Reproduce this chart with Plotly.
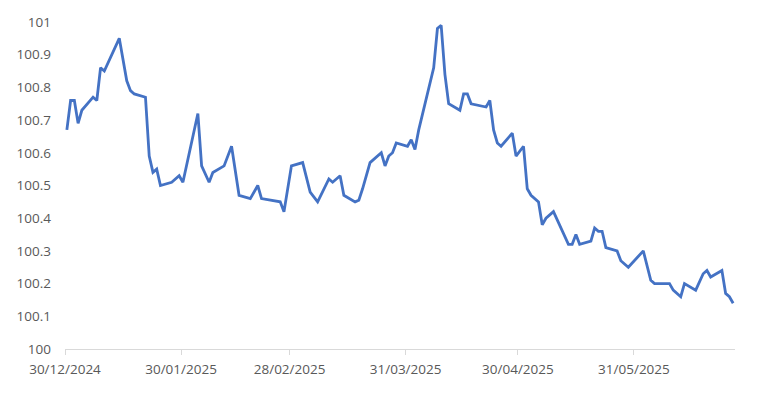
import plotly.graph_objects as go
import pandas as pd

dates = [
    "2024-12-30", "2024-12-31", "2025-01-01", "2025-01-02", "2025-01-03",
    "2025-01-06", "2025-01-07", "2025-01-08", "2025-01-09", "2025-01-13",
    "2025-01-15", "2025-01-16", "2025-01-17", "2025-01-20", "2025-01-21",
    "2025-01-22", "2025-01-23", "2025-01-24", "2025-01-27", "2025-01-29",
    "2025-01-30", "2025-02-03", "2025-02-04", "2025-02-06", "2025-02-07",
    "2025-02-10", "2025-02-12", "2025-02-14", "2025-02-17", "2025-02-19",
    "2025-02-20", "2025-02-25", "2025-02-26", "2025-02-28", "2025-03-03",
    "2025-03-05", "2025-03-07", "2025-03-10", "2025-03-11", "2025-03-13",
    "2025-03-14", "2025-03-17", "2025-03-18", "2025-03-19", "2025-03-21",
    "2025-03-24", "2025-03-25", "2025-03-26", "2025-03-27", "2025-03-28",
    "2025-03-31", "2025-04-01", "2025-04-02", "2025-04-03", "2025-04-07",
    "2025-04-08", "2025-04-09", "2025-04-10", "2025-04-11", "2025-04-14",
    "2025-04-15", "2025-04-16", "2025-04-17", "2025-04-21", "2025-04-22",
    "2025-04-23", "2025-04-24", "2025-04-25", "2025-04-28", "2025-04-29",
    "2025-05-01", "2025-05-02", "2025-05-03", "2025-05-05", "2025-05-06",
    "2025-05-07", "2025-05-09", "2025-05-11", "2025-05-13", "2025-05-14",
    "2025-05-15", "2025-05-16", "2025-05-19", "2025-05-20", "2025-05-21",
    "2025-05-22", "2025-05-23", "2025-05-26", "2025-05-27", "2025-05-29",
    "2025-06-02", "2025-06-04", "2025-06-05", "2025-06-09", "2025-06-10",
    "2025-06-12", "2025-06-13", "2025-06-16", "2025-06-18", "2025-06-19",
    "2025-06-20", "2025-06-23", "2025-06-24", "2025-06-25", "2025-06-26",
]
values = [
    100.67, 100.76, 100.76, 100.69, 100.73,
    100.77, 100.76, 100.86, 100.85, 100.95,
    100.82, 100.79, 100.78, 100.77, 100.59,
    100.54, 100.55, 100.50, 100.51, 100.53,
    100.51, 100.72, 100.56, 100.51, 100.54,
    100.56, 100.62, 100.47, 100.46, 100.50,
    100.46, 100.45, 100.42, 100.56, 100.57,
    100.48, 100.45, 100.52, 100.51, 100.53,
    100.47, 100.45, 100.455, 100.49, 100.57,
    100.60, 100.56, 100.59, 100.60, 100.63,
    100.62, 100.64, 100.61, 100.67, 100.86,
    100.98, 100.99, 100.84, 100.75, 100.73,
    100.78, 100.78, 100.75, 100.74, 100.76,
    100.67, 100.63, 100.62, 100.66, 100.59,
    100.62, 100.49, 100.47, 100.45, 100.38,
    100.40, 100.42, 100.37, 100.32, 100.32,
    100.35, 100.32, 100.33, 100.37, 100.36,
    100.36, 100.31, 100.30, 100.27, 100.25,
    100.30, 100.21, 100.20, 100.20, 100.18,
    100.16, 100.20, 100.18, 100.23, 100.24,
    100.22, 100.24, 100.17, 100.16, 100.14,
]

x_tick_dates = ["2024-12-30", "2025-01-30", "2025-02-28", "2025-03-31", "2025-04-30", "2025-05-31"]
x_tick_labels = ["30/12/2024", "30/01/2025", "28/02/2025", "31/03/2025", "30/04/2025", "31/05/2025"]
y_tick_vals = [100, 100.1, 100.2, 100.3, 100.4, 100.5, 100.6, 100.7, 100.8, 100.9, 101]
y_tick_labels = ["100", "100.1", "100.2", "100.3", "100.4", "100.5", "100.6", "100.7", "100.8", "100.9", "101"]

half_day = pd.Timedelta(hours=12)
tickvals = [pd.Timestamp(d) - half_day for d in x_tick_dates]
x_start = pd.Timestamp("2024-12-30") - half_day
x_end = pd.Timestamp("2025-06-26") + half_day

fig = go.Figure()
fig.add_trace(go.Scatter(
    x=pd.to_datetime(dates), y=values, mode="lines",
    line=dict(color="#4472C4", width=2.8),
    hoverinfo="x+y", showlegend=False,
))

font = dict(family="Open Sans", size=13.5, color="#595959")
fig.update_layout(
    width=752, height=388,
    margin=dict(l=57, r=25, t=14, b=47),
    plot_bgcolor="white", paper_bgcolor="white",
    font=font,
    xaxis=dict(
        range=[x_start, x_end], automargin=False,
        tickmode="array", tickvals=tickvals, ticktext=x_tick_labels,
        showgrid=False, zeroline=False,
        showline=True, linecolor="#d9d9d9", linewidth=1,
        ticks="outside", ticklen=5, tickcolor="#d9d9d9",
        ticklabelstandoff=3,
        tickfont=font,
    ),
    yaxis=dict(
        range=[100, 101], automargin=False,
        tickmode="array", tickvals=y_tick_vals, ticktext=y_tick_labels,
        showgrid=False, zeroline=False, showline=False,
        ticks="", ticklabelstandoff=13,
        tickfont=font,
    ),
)

fig.write_html("out.html")
